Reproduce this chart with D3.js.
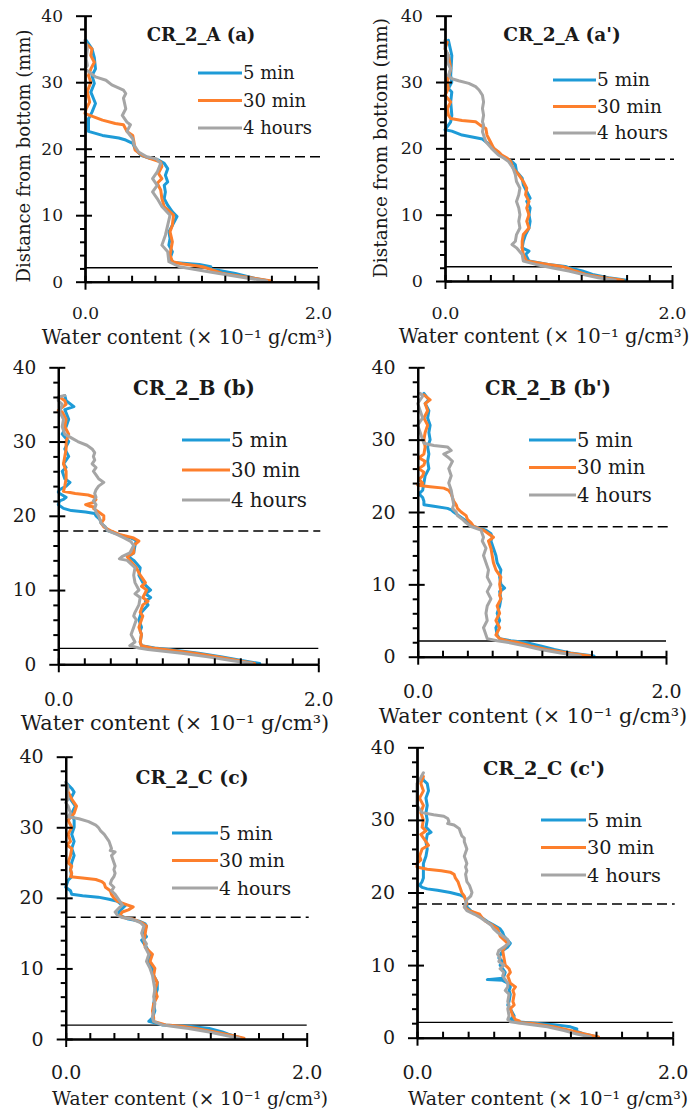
<!DOCTYPE html>
<html lang="en">
<head>
<meta charset="UTF-8">
<script src="https://cdn.jsdelivr.net/npm/d3@7"></script>
<title>Water content profiles</title>
<style>
  body { margin: 0; background: #fff; }
  svg text { font-family: "DejaVu Serif", serif; fill: #1a1a1a; }
</style>
</head>
<body>
<svg id="chart" width="692" height="1113"></svg>
<script>
// legend / series
var seriesNames = ["5 min", "30 min", "4 hours"];
var seriesColors = ["#1e9bd7", "#fd7f2c", "#a5a5a5"];
var panelTitles = ["CR_2_A (a)", "CR_2_A (a')", "CR_2_B (b)", "CR_2_B (b')", "CR_2_C (c)", "CR_2_C (c')"];
var xTitle = "Water content (× 10⁻¹ g/cm³)";
var yTitle = "Distance from bottom (mm)";
var yTicks = [0, 10, 20, 30, 40];
var yMinorTicks = [2, 4, 6, 8, 12, 14, 16, 18, 22, 24, 26, 28, 32, 34, 36, 38];
var xTicks = [0, 2];
var xTickLabels = ["0.0", "2.0"];
var xMinorTicks = [0.2, 0.4, 0.6, 0.8, 1.0, 1.2, 1.4, 1.6, 1.8];
// horizontal reference lines (mm)
var dashedDepth = [18.8, 18.35, 17.95, 17.97, 17.24, 18.4];
var solidDepth = [2.1, 2.15, 2.15, 2.17, 1.98, 2.12];

// profiles: [distance from bottom (mm), water content (x 10^-1 g/cm3)]
var A_5min = [[36.3,.01],[35,.06],[33.7,.08],[32,.09],[31,.06],[29.8,.08],[28.5,.05],[26.8,.09],[25.5,.06],[24.5,.03],[22.6,.03],[22,.15],[21.6,.29],[21.3,.35],[20.8,.41],[20,.43],[19,.48],[18.6,.55],[18.3,.63],[17.8,.68],[17,.71],[16,.69],[15,.71],[14.5,.68],[13.5,.69],[12.5,.68],[11.5,.71],[10.5,.75],[9.8,.79],[8.5,.75],[7.5,.72],[6.5,.73],[5.5,.72],[4.5,.75],[3.5,.73],[2.9,.76],[2.6,.98],[2.25,1.08],[2,1.06],[1.25,1.29],[.5,1.46],[.1,1.58]];
var A_30min = [[35.6,.02],[35,.06],[34,.05],[33,.08],[32,.05],[31,.03],[30,.05],[28.6,.02],[27,.04],[26,.01],[25.3,0],[25.1,.03],[24.3,.15],[23.8,.26],[23.6,.33],[22.6,.36],[22,.41],[21,.42],[19.8,.43],[19,.49],[18.5,.56],[18,.65],[17.3,.66],[16.3,.63],[15.5,.66],[14.8,.62],[13.8,.65],[12.5,.66],[11.3,.68],[10,.76],[8.5,.75],[7.5,.73],[6,.75],[4,.73],[3,.75],[2.7,.83],[2.25,1.01],[1.25,1.18],[.65,1.41],[.1,1.6]];
var A_4h = [[36.3,0],[35,.02],[33.5,.01],[32.5,.02],[32,0],[31.6,.03],[30.8,.09],[30.3,.18],[29.6,.23],[28.8,.33],[28.3,.35],[27.6,.33],[26,.35],[25,.32],[24,.36],[23.6,.39],[22.6,.36],[21.5,.41],[20.6,.42],[19.5,.46],[18.8,.53],[18.5,.61],[17.8,.65],[16.5,.62],[15.5,.58],[14.5,.62],[13.5,.58],[12.5,.62],[11.3,.66],[10,.73],[8.5,.71],[7,.69],[5.5,.66],[4.5,.71],[3,.72],[2.25,.81],[1.5,1.06],[.75,1.32],[.1,1.56]];

var Ap_5min = [[36.3,.03],[34,.06],[31,.05],[30,.06],[29,.03],[28.5,.06],[27,.05],[25,.06],[24,.05],[22.8,0],[22.6,.06],[22,.15],[21.7,.24],[21.4,.33],[21,.36],[20.5,.4],[20,.43],[19.5,.46],[19,.49],[18.5,.53],[18,.59],[17.5,.62],[16.5,.63],[15.5,.68],[14.5,.69],[13.5,.72],[12.5,.75],[12,.72],[11,.75],[10,.74],[9,.75],[8,.74],[7,.71],[6,.69],[5,.68],[4.5,.74],[4,.71],[3,.74],[2.5,.91],[2.2,1.06],[2,1.09],[1.5,1.21],[1,1.3],[.5,1.44],[.1,1.6]];
var Ap_30min = [[36,.02],[35,0],[34,.03],[32,.05],[30,.02],[29,.03],[28,0],[27,.05],[26,.02],[25,.03],[24.5,.05],[24.2,.15],[24,.27],[23.5,.31],[23,.36],[22,.37],[21,.4],[20,.43],[19.5,.47],[19,.5],[18.5,.55],[18,.58],[17,.6],[16,.65],[15,.69],[14,.72],[13,.71],[12,.74],[11,.72],[10,.74],[9,.72],[8,.74],[7,.69],[6,.68],[5,.68],[4,.69],[3,.72],[2.5,.91],[2.2,1.03],[2,1.07],[1.5,1.15],[1,1.24],[.5,1.41],[.1,1.57]];
var Ap_4h = [[36.3,0],[35,0],[34,.03],[33,.02],[32,.05],[31,.03],[30.5,.06],[30.2,.12],[29.8,.21],[29.3,.27],[28.8,.3],[28,.33],[27,.34],[26,.33],[25,.34],[24,.33],[23.5,.34],[22.5,.33],[21,.36],[20,.41],[19,.47],[18.5,.52],[18,.56],[17,.6],[16,.62],[15,.63],[14,.66],[13,.65],[12,.63],[11,.65],[10,.66],[9,.65],[8,.66],[7,.63],[6,.62],[5.5,.59],[5,.63],[4,.68],[3,.69],[2.5,.8],[2,.94],[1.5,1.09],[1,1.21],[.5,1.35],[.1,1.5]];

var B_5min = [[36.2,.05],[35.5,.06],[34.7,.12],[34.3,.05],[33,.08],[32,.06],[31,.03],[30,.08],[29,.05],[28,.08],[27,.04],[26.5,.06],[26,.03],[25,.05],[24.5,.09],[24,.06],[23.5,.01],[23.2,0],[23,.01],[22.5,.06],[22.2,.04],[22,.01],[21.5,0],[21,.04],[20.7,.1],[20.5,.21],[20.3,.28],[20,.29],[19.5,.32],[19,.33],[18.5,.36],[18,.38],[17.5,.46],[17,.56],[16.7,.6],[16,.59],[15,.58],[14.5,.54],[14,.58],[13,.63],[12,.62],[11,.65],[10,.71],[9.5,.67],[9,.71],[8.5,.67],[8,.69],[7,.64],[6.5,.63],[6,.62],[5,.64],[4.5,.63],[4,.64],[3,.63],[2.5,.64],[2.2,.74],[2,.85],[1.5,1.08],[1,1.26],[.5,1.41],[.1,1.55]];
var B_30min = [[36,.01],[35.5,.05],[35,.06],[34.2,0],[34,.03],[33,.06],[32,.05],[31,.08],[30,.06],[29,.06],[28,.05],[27,.04],[26,.06],[25,.06],[24,.05],[23.3,.04],[23,.13],[22.8,.23],[22.5,.28],[22.2,.29],[21.8,.27],[21.5,.21],[21.3,.24],[21.2,.28],[21,.27],[20.5,.31],[20,.35],[19.5,.35],[19,.33],[18.5,.35],[18,.4],[17.5,.47],[17,.58],[16.6,.62],[16,.58],[15,.58],[14.5,.53],[14,.55],[13,.6],[12,.63],[11,.67],[10.5,.64],[10,.68],[9,.65],[8.5,.69],[8,.65],[7,.63],[6.5,.65],[6,.64],[5,.62],[4,.64],[3,.63],[2.5,.64],[2.2,.72],[2,.82],[1.5,1.05],[1,1.23],[.5,1.38],[.1,1.51]];
var B_4h = [[36.2,.05],[36,0],[35.5,0],[35,.03],[34,.01],[33,.04],[32,.03],[31,.05],[30.5,.1],[30,.15],[29.5,.22],[29,.26],[28.5,.28],[28,.27],[27.5,.28],[27,.26],[26.5,.29],[26,.27],[25.5,.29],[25,.31],[24.5,.35],[24,.31],[23.5,.29],[23,.28],[22.5,.29],[22,.27],[21.5,.29],[21,.28],[20.5,.29],[20,.31],[19.5,.32],[19,.33],[18.5,.36],[18,.38],[17.5,.45],[17,.51],[16.5,.56],[16,.58],[15,.55],[14.5,.49],[14.2,.47],[14,.53],[13,.59],[12,.58],[11,.59],[10,.62],[9.5,.59],[9,.63],[8,.62],[7,.59],[6.5,.58],[6,.6],[5,.58],[4,.56],[3,.59],[2.5,.55],[2.2,.62],[2,.69],[1.5,.95],[1,1.15],[.5,1.33],[.1,1.49]];

var Bp_5min = [[36.4,.05],[35.5,.09],[35,.06],[34,.09],[33,.08],[32,.1],[31,.09],[30,.1],[29,.08],[28,.09],[27,.08],[26,.09],[25,.06],[24,.05],[23,.04],[22.5,.01],[22,.04],[21.5,.05],[21,.05],[20.8,.13],[20.5,.24],[20.3,.27],[20,.29],[19.5,.33],[19,.37],[18.5,.41],[18,.45],[17.5,.55],[17,.59],[16.5,.6],[16,.59],[15,.61],[14,.63],[13,.64],[12,.67],[11,.66],[10,.67],[9.5,.7],[9,.66],[8,.67],[7,.66],[6,.64],[5,.66],[4,.63],[3,.64],[2.5,.66],[2.2,.75],[2,.86],[1.5,.99],[1,1.1],[.5,1.23],[.1,1.42]];
var Bp_30min = [[36.2,.05],[35.5,.1],[35,.06],[34,.08],[33,.05],[32,.08],[31,.06],[30,.05],[29,.06],[28,.05],[27.5,.01],[27,.06],[26.5,.05],[26,.01],[25.5,.05],[25,.04],[24.5,.01],[24,.04],[23.7,0],[23.5,.1],[23.3,.21],[23,.25],[22.5,.27],[22,.28],[21.5,.29],[21,.31],[20.5,.32],[20,.35],[19.5,.39],[19,.4],[18.5,.43],[18,.45],[17.5,.53],[17,.57],[16.5,.61],[16,.57],[15,.59],[14,.6],[13,.61],[12,.63],[11,.67],[10,.66],[9,.67],[8.5,.66],[8,.67],[7,.64],[6,.66],[5,.63],[4,.66],[3,.63],[2.5,.66],[2.2,.72],[2,.8],[1.5,.91],[1,1.04],[.5,1.21],[.1,1.39]];
var Bp_4h = [[36.4,.02],[36,.04],[35,0],[34,.02],[33,.04],[32,0],[31,.02],[30,.04],[29.5,.05],[29.2,.13],[29,.24],[28.5,.27],[28,.21],[27.5,.25],[27,.28],[26,.25],[25,.27],[24,.25],[23,.27],[22,.28],[21,.29],[20.5,.28],[20,.31],[19.5,.32],[19,.36],[18.5,.39],[18,.43],[17.5,.51],[17,.52],[16.5,.53],[16,.52],[15,.55],[14,.53],[13,.55],[12,.57],[11,.56],[10,.59],[9,.56],[8,.59],[7,.56],[6,.55],[5,.56],[4,.53],[3,.55],[2.5,.56],[2.2,.64],[2,.72],[1.5,.86],[1,.99],[.5,1.15],[.1,1.31]];

var C_5min = [[36.2,.01],[35.5,.05],[35,.07],[34,.04],[33,.08],[32,.05],[31,.07],[30,.07],[29,.05],[28,.07],[27,.05],[26,.07],[25,.05],[24,.04],[23,.05],[22.5,.02],[22,.01],[21.5,0],[21,.04],[20.5,.05],[20.3,.14],[20.1,.27],[19.8,.36],[19.5,.43],[19.2,.45],[19,.5],[18.5,.47],[18,.44],[17.5,.45],[17,.52],[16.7,.61],[16.3,.66],[16,.67],[15,.65],[14.5,.67],[14,.63],[13,.67],[12,.7],[11,.69],[10,.72],[9,.73],[8,.76],[7,.76],[6,.74],[5,.73],[4,.74],[3,.72],[2.5,.69],[2,.8],[1.8,1.02],[1.5,1.19],[1,1.3],[.7,1.35],[.1,1.46]];
var C_30min = [[36,.01],[35,.02],[34,.05],[33,.09],[32,.07],[31,.02],[30,.05],[29,.02],[28,.04],[27.5,.01],[27,.05],[26,.04],[25,.02],[24.5,.05],[24,.04],[23.5,.05],[23,.04],[22.8,.14],[22.6,.25],[22.3,.3],[22,.32],[21.5,.33],[21,.37],[20.5,.38],[20,.4],[19.5,.43],[19,.51],[18.7,.56],[18.3,.52],[18,.47],[17.5,.45],[17.2,.48],[17,.56],[16.5,.63],[16,.67],[15,.66],[14,.65],[13,.66],[12,.72],[11,.7],[10,.74],[9,.73],[8,.76],[7,.74],[6,.76],[5,.73],[4,.72],[3,.73],[2.5,.73],[2,.83],[1.8,.97],[1.5,1.08],[1,1.24],[.5,1.38],[.1,1.48]];
var C_4h = [[36.4,0],[35.5,.02],[35,.01],[34,.02],[33.5,0],[33,.02],[32,.04],[31.5,.02],[31.2,.11],[30.8,.19],[30.3,.25],[30,.27],[29.5,.29],[29,.32],[28.5,.34],[28,.36],[27.5,.37],[27,.38],[26.7,.37],[26.5,.41],[26,.38],[25,.4],[24.5,.41],[24,.4],[23.5,.41],[23,.4],[22.5,.38],[22,.37],[21.5,.4],[21,.38],[20.5,.41],[20,.43],[19.5,.45],[19,.47],[18.5,.44],[18,.41],[17.5,.43],[17.2,.47],[17,.55],[16.5,.62],[16,.65],[15,.63],[14,.65],[13.5,.67],[13,.66],[12,.69],[11,.67],[10,.7],[9,.72],[8,.73],[7,.74],[6,.73],[5,.74],[4,.73],[3,.72],[2.5,.73],[2,.8],[1.8,.88],[1.5,1.02],[1,1.19],[.5,1.33],[.1,1.44]];

var Cp_5min = [[36.1,.04],[35.5,.05],[35,.08],[34,.09],[33,.07],[32,.08],[31,.07],[30,.08],[29,.07],[28.3,.11],[28,.08],[27,.07],[26,.08],[25,.07],[24,.05],[22,.05],[21.5,.04],[21,.02],[20.7,.04],[20.5,.08],[20.3,.16],[20,.26],[19.7,.33],[19.4,.37],[19,.38],[18.5,.39],[18,.39],[17.5,.42],[17,.46],[16.5,.51],[16,.55],[15.5,.6],[15,.65],[14.5,.67],[14,.68],[13,.73],[12.5,.71],[12,.67],[11,.64],[10.5,.67],[10,.65],[9.5,.67],[9,.69],[8.5,.68],[8.2,.67],[8,.55],[7.9,.67],[7.5,.71],[7,.73],[6.5,.72],[6,.73],[5,.72],[4.5,.71],[4,.73],[3,.76],[2.5,.73],[2.2,.78],[2,.92],[1.8,1.07],[1.5,1.2],[1.2,1.25],[1,1.23],[.5,1.31],[.1,1.41]];
var Cp_30min = [[36,.05],[35,.03],[34,.05],[33,.02],[32,.05],[31,.03],[30,.05],[29,.04],[28.5,.07],[28,.03],[27,.07],[26.5,.09],[26,.04],[25,.02],[24.5,.03],[24,0],[23.5,0],[23.2,.08],[23,.19],[22.8,.26],[22.5,.29],[22,.3],[21.5,.32],[21,.33],[20.5,.34],[20,.35],[19.5,.37],[19,.38],[18.5,.39],[18,.37],[17.5,.41],[17,.49],[16.5,.51],[16,.54],[15.5,.59],[15,.63],[14.5,.64],[14,.65],[13,.71],[12.5,.69],[12,.67],[11,.68],[10,.69],[9.5,.72],[9,.73],[8.5,.71],[8,.72],[7.5,.73],[7,.77],[6.5,.75],[6,.76],[5,.75],[4.5,.76],[4,.73],[3,.75],[2.5,.77],[2.3,.8],[2.1,.78],[2,.89],[1.5,1.07],[1,1.2],[.5,1.31],[.1,1.42]];
var Cp_4h = [[36.5,.05],[35.5,.02],[35,0],[34,0],[33,0],[32,0],[31.5,.02],[31,.04],[30.7,.13],[30.5,.21],[30.2,.24],[29.8,.25],[29.5,.24],[29.3,.29],[28.8,.33],[28.3,.34],[27.8,.35],[27.5,.37],[27,.37],[26.5,.38],[26,.39],[25.5,.38],[25,.37],[24.5,.38],[24,.39],[23.5,.38],[23,.39],[22.5,.38],[21.5,.39],[21,.41],[20.5,.42],[20,.43],[19.5,.42],[19,.39],[18.5,.38],[18,.37],[17.5,.39],[17,.45],[16.5,.5],[16,.54],[15.5,.58],[15,.6],[14.5,.63],[14,.67],[13.5,.71],[13,.72],[12.5,.68],[12,.64],[11.5,.63],[11,.65],[10.5,.64],[10,.68],[9.5,.65],[9,.68],[8.5,.67],[8,.69],[7.5,.71],[7,.71],[6.5,.69],[6,.72],[5,.71],[4.5,.72],[4,.71],[3,.72],[2.5,.71],[2.2,.73],[2,.81],[1.5,1.02],[1,1.15],[.5,1.25],[.1,1.36]];

var panelSeries = [
  [A_5min, A_30min, A_4h],
  [Ap_5min, Ap_30min, Ap_4h],
  [B_5min, B_30min, B_4h],
  [Bp_5min, Bp_30min, Bp_4h],
  [C_5min, C_30min, C_4h],
  [Cp_5min, Cp_30min, Cp_4h]
];

// page layout of each panel (pixels); fs = text size, tfs = tick label size, xfs = x title size
var layout = [
  {x0: 85, x1: 318, yb: 281.7, yt: 15.7, tx: 201, ty: 35, lx0: 198, lx1: 242, ly: 73, lstep: 27.5, xlab: 313, xtx: 187, xty: 337, ytx: 24, yty: 156, fs: 18, tfs: 17, xfs: 19.6},
  {x0: 445, x1: 672, yb: 281, yt: 15.7, tx: 562, ty: 35, lx0: 553, lx1: 596, ly: 80, lstep: 26.5, xlab: 313, xtx: 544, xty: 336, ytx: 381, yty: 148, fs: 18.5, tfs: 17.5, xfs: 19.6},
  {x0: 58.3, x1: 318.3, yb: 664.3, yt: 367.3, tx: 194, ty: 388, lx0: 182, lx1: 230, ly: 440, lstep: 30, xlab: 700, xtx: 175, xty: 723, fs: 19.8, tfs: 18.5, xfs: 20.8},
  {x0: 417.7, x1: 666, yb: 656.7, yt: 367.3, tx: 548, ty: 388, lx0: 529, lx1: 576, ly: 440, lstep: 27.5, xlab: 691, xtx: 533, xty: 716, fs: 19.5, tfs: 19, xfs: 20.8},
  {x0: 65.7, x1: 306.7, yb: 1039, yt: 756.7, tx: 192, ty: 777, lx0: 172, lx1: 218, ly: 833, lstep: 27.5, xlab: 1072, xtx: 190, xty: 1098, fs: 18.8, tfs: 19, xfs: 18.6},
  {x0: 417, x1: 672.7, yb: 1037.7, yt: 747.3, tx: 544, ty: 768, lx0: 541, lx1: 586, ly: 820, lstep: 27.5, xlab: 1072, xtx: 548, xty: 1098, fs: 19.3, tfs: 19, xfs: 18.9}
];

var svg = d3.select("#chart");

function styleAxis(sel, size) {
  sel.attr("font-family", null).attr("font-size", size);
  sel.selectAll("path, line").attr("stroke", "#000").attr("stroke-width", 2);
  sel.selectAll("text").attr("fill", "#1a1a1a");
}

layout.forEach(function (L, i) {
  var x = d3.scaleLinear().domain([0, 2]).range([L.x0, L.x1]);
  var y = d3.scaleLinear().domain([0, 40]).range([L.yb, L.yt]);
  var g = svg.append("g");

  // reference lines
  g.append("line")
    .attr("x1", x(0)).attr("x2", x(2) + 2)
    .attr("y1", y(dashedDepth[i])).attr("y2", y(dashedDepth[i]))
    .attr("stroke", "#000").attr("stroke-width", 1.5)
    .attr("stroke-dasharray", "10,5");
  g.append("line")
    .attr("x1", x(0)).attr("x2", x(2))
    .attr("y1", y(solidDepth[i])).attr("y2", y(solidDepth[i]))
    .attr("stroke", "#000").attr("stroke-width", 1.3);

  // profiles
  var line = d3.line().x(function (d) { return x(d[1]); }).y(function (d) { return y(d[0]); });
  panelSeries[i].forEach(function (s, k) {
    g.append("path").datum(s)
      .attr("d", line)
      .attr("fill", "none")
      .attr("stroke", seriesColors[k])
      .attr("stroke-width", 3)
      .attr("stroke-linejoin", "round")
      .attr("stroke-linecap", "round");
  });

  // y axis: labelled major ticks, inner half of major ticks, minor ticks
  g.append("g").attr("transform", "translate(" + L.x0 + ",0)")
    .call(d3.axisRight(y).tickValues(yTicks).tickSize(7).tickSizeOuter(0).tickFormat(""))
    .call(styleAxis, L.tfs);
  g.append("g").attr("transform", "translate(" + L.x0 + ",0)")
    .call(d3.axisLeft(y).tickValues(yMinorTicks).tickSize(5).tickSizeOuter(0).tickFormat(""))
    .call(styleAxis, L.tfs);
  g.append("g").attr("transform", "translate(" + L.x0 + ",0)")
    .call(d3.axisLeft(y).tickValues(yTicks).tickSize(9).tickPadding(13).tickSizeOuter(0).tickFormat(d3.format("d")))
    .call(styleAxis, L.tfs);

  // x axis: minor ticks up, major ticks down with labels
  g.append("g").attr("transform", "translate(0," + L.yb + ")")
    .call(d3.axisTop(x).tickValues(xMinorTicks.concat(xTicks)).tickSize(6).tickSizeOuter(0).tickFormat(""))
    .call(styleAxis, L.tfs);
  g.append("g").attr("transform", "translate(0," + L.yb + ")")
    .call(d3.axisBottom(x).tickValues(xTicks).tickSize(8).tickSizeOuter(0)
      .tickFormat(function (d, j) { return xTickLabels[j]; }))
    .call(styleAxis, L.tfs)
    .call(function (a) { a.selectAll("text").attr("y", L.xlab - L.yb).attr("dy", "0.35em"); });

  // panel title
  g.append("text")
    .attr("x", L.tx).attr("y", L.ty).attr("dy", "0.35em")
    .attr("text-anchor", "middle")
    .attr("font-size", L.fs).attr("font-weight", "bold")
    .text(panelTitles[i]);

  // legend
  seriesNames.forEach(function (name, k) {
    var ly = L.ly + k * L.lstep;
    g.append("line")
      .attr("x1", L.lx0).attr("x2", L.lx1)
      .attr("y1", ly).attr("y2", ly)
      .attr("stroke", seriesColors[k]).attr("stroke-width", 3.2);
    g.append("text")
      .attr("x", L.lx1 + 1).attr("y", ly).attr("dy", "0.35em")
      .attr("font-size", L.fs)
      .text(name);
  });

  // axis titles
  g.append("text")
    .attr("x", L.xtx).attr("y", L.xty).attr("dy", "0.35em")
    .attr("text-anchor", "middle").attr("font-size", L.xfs)
    .text(xTitle);
  if (L.ytx !== undefined) {
    g.append("text")
      .attr("transform", "translate(" + L.ytx + "," + L.yty + ") rotate(-90)")
      .attr("dy", "0.35em")
      .attr("text-anchor", "middle").attr("font-size", L.fs)
      .text(yTitle);
  }
});
</script>
</body>
</html>
